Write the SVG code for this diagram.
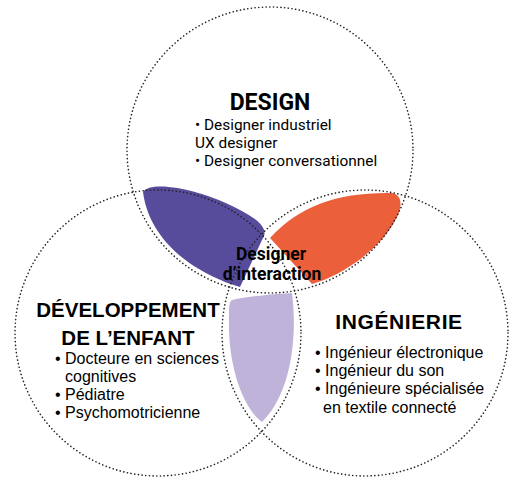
<svg xmlns="http://www.w3.org/2000/svg" width="511" height="478" viewBox="0 0 511 478">
<style>
.c{fill:none;stroke:#222;stroke-width:1.6;stroke-dasharray:0.1 3.6;stroke-linecap:round}
.h{font-family:Roboto,"Liberation Sans",sans-serif;font-weight:700;fill:#000}
.hs{font-family:"Liberation Sans",Arial,sans-serif;font-weight:700;fill:#000}
.t{font-family:Roboto,"Liberation Sans",sans-serif;font-size:15.4px;fill:#000}
.s{font-family:"Liberation Sans",Arial,sans-serif;font-size:16px;fill:#000}
</style>
<rect width="511" height="478" fill="#fff"/>
<g id="blobs">
<path id="purple" d="M143,192 C150,180 200,188 240,210 C265,223 268,232 262,240 L240,287 C200,275 150,245 143,192 Z" fill="#574b9c"/>
<path id="orange" d="M270,238 C300,205 340,192 392,193 C402,195 402,205 398,215 C385,245 345,275 312,284 L270,238 Z" fill="#ec5f3b"/>
<path id="lavender" d="M232,300 C250,296 275,294 292,293 C298,340 290,395 262,422 C240,405 228,360 229,320 C229,308 229,302 232,300 Z" fill="#bfb3d9"/>
</g>
<g id="connectors">
<circle class="c" cx="270" cy="150" r="143"/>
<circle class="c" cx="158" cy="333" r="143"/>
<circle class="c" cx="365" cy="333" r="143"/>
</g>
<g id="design">
<text class="h" x="270" y="110" font-size="23" text-anchor="middle">DESIGN</text>
<text class="t" x="195" y="130">• Designer industriel</text>
<text class="t" x="195" y="148">UX designer</text>
<text class="t" x="195" y="166">• Designer conversationnel</text>
</g>
<g id="interaction">
<text class="h" x="271" y="260" font-size="17.5" text-anchor="middle">Designer</text>
<text class="h" x="272" y="280" font-size="17.5" text-anchor="middle">d’interaction</text>
</g>
<g id="enfant">
<text class="hs" x="128" y="317" font-size="20.5" text-anchor="middle">DÉVELOPPEMENT</text>
<text class="hs" x="128" y="345" font-size="20.5" text-anchor="middle">DE L’ENFANT</text>
<text class="s" x="55" y="364">• Docteure en sciences</text>
<text class="s" x="65" y="382">cognitives</text>
<text class="s" x="55" y="400">• Pédiatre</text>
<text class="s" x="55" y="418">• Psychomotricienne</text>
</g>
<g id="ingenierie">
<text class="hs" x="399" y="329" font-size="21" letter-spacing="0.6" text-anchor="middle">INGÉNIERIE</text>
<text class="s" x="315" y="358">• Ingénieur électronique</text>
<text class="s" x="315" y="376">• Ingénieur du son</text>
<text class="s" x="315" y="394">• Ingénieure spécialisée</text>
<text class="s" x="323" y="413">en textile connecté</text>
</g>
</svg>
